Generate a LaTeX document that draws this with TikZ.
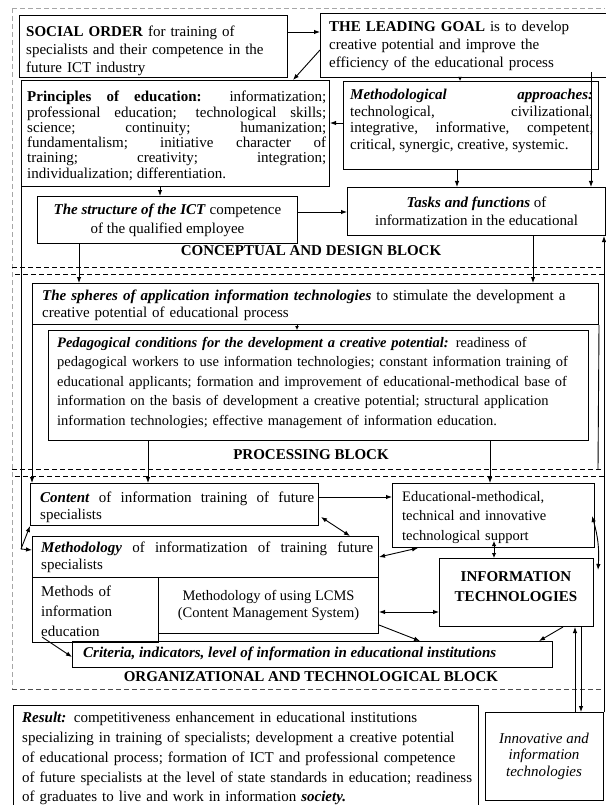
\documentclass[tikz,border=0pt]{standalone}
\usepackage{fontspec}
\setmainfont{Liberation Serif}
\usetikzlibrary{calc,arrows.meta}
\begin{document}
\begin{tikzpicture}[x=1pt,y=-1pt,
 bx/.style={draw,line width=1pt,inner sep=0pt,anchor=north west},
 txt/.style={inner sep=0pt,anchor=north west},
 arr/.style={line width=0.9pt,-{Latex[length=6pt,width=4.5pt]}},
 sarr/.style={line width=0.9pt,-{Latex[length=4pt,width=4pt]}},
 darr/.style={line width=0.9pt,{Latex[length=6pt,width=4.5pt]}-{Latex[length=6pt,width=4.5pt]}},
 sdarr/.style={line width=0.9pt,{Latex[length=5pt,width=4.5pt]}-{Latex[length=5pt,width=4.5pt]}},
 ln/.style={line width=0.9pt},
 sepl/.style={line width=0.8pt,dash pattern=on 5pt off 3pt},
 frm/.style={line width=0.8pt,black!35,dash pattern=on 5pt off 3pt},
 lbl/.style={inner sep=0pt,font=\fontsize{15}{18}\selectfont\bfseries},
 f15/.style={font=\fontsize{15}{#1}\selectfont},
]
\useasboundingbox (0,0) rectangle (605,805);

% outer frame
\draw[frm] (12,8) -- (605,8);
\draw[frm] (12,8) -- (12,689);

% ---------- conceptual block ----------
\node[bx,minimum width=268,minimum height=62] (social) at (19,15) {};
\node[txt,text width=262,align=left,f15=18] (socialt) at (26,26)
 {\textbf{SOCIAL ORDER} for training of\\specialists and their competence in the\\future ICT industry};

\node[bx,minimum width=290,minimum height=64] (goal) at (320,13) {};
\node[txt,text width=275,align=left,f15=18] (goalt) at (329,21)
 {\textbf{THE LEADING GOAL} is to develop\\creative potential and improve the\\efficiency of the educational process};

\node[bx,minimum width=308,minimum height=106] (princ) at (21,80) {};
\node[txt,text width=299,align=justify,f15=15.3] (princt) at (27,91)
 {\noindent\textbf{Principles of education:} informatization;\linebreak professional education; technological skills;\linebreak science; continuity; humanization;\linebreak fundamentalism; initiative character of\linebreak training; creativity; integration;\linebreak individualization; differentiation.};

\node[bx,minimum width=255,minimum height=88] (meth) at (343,81) {};
\node[txt,text width=243,align=justify,f15=16.5] (metht) at (350,89)
 {\noindent\textbf{\textit{Methodological approaches:}}\linebreak technological, civilizational,\linebreak integrative, informative, competent,\linebreak critical, synergic, creative, systemic.};

\node[bx,minimum width=260,minimum height=47,align=center,f15=19] (struct) at (37,196)
 {\textbf{\textit{The structure of the ICT}} competence\\of the qualified employee};

\node[bx,minimum width=258,minimum height=48,align=center,f15=18] (tasks) at (347,187)
 {\textbf{\textit{Tasks and functions}} of\\informatization in the educational};

\node[lbl] (cdb) at (311,251) {CONCEPTUAL AND DESIGN BLOCK};
\draw[sepl] (12,267) -- (605,267);
\draw[sepl] (15,274) -- (605,274);

% ---------- processing block ----------
\node[bx,minimum width=566,minimum height=41] (spheres) at (32,283) {};
\node[txt,text width=550,align=left,f15=17] (spherest) at (42,290)
 {\textbf{\textit{The spheres of application information technologies}} to stimulate the development a\\creative potential of educational process};

\node[bx,minimum width=540,minimum height=110] (ped) at (48,330) {};
\node[txt,text width=528,align=left,font=\fontsize{14.5}{19.5}\selectfont] (pedt) at (57,337)
 {\textbf{\textit{Pedagogical conditions for the development a creative potential:}} readiness of\\pedagogical workers to use information technologies; constant information training of\\educational applicants; formation and improvement of educational-methodical base of\\information on the basis of development a creative potential; structural application\\information technologies; effective management of information education.};

\node[lbl] (pb) at (311,455) {PROCESSING BLOCK};
\draw[sepl] (12,469) -- (605,469);
\draw[sepl] (15,476) -- (605,476);
\coordinate (rf) at (598,469);

% ---------- organizational block ----------
\node[bx,minimum width=288,minimum height=42] (content) at (30,483) {};
\node[txt,text width=274,align=justify,f15=17] (contentt) at (40,492)
 {\noindent\textbf{\textit{Content}} of information training of future\linebreak specialists};

\node[bx,minimum width=202,minimum height=64] (edu) at (392,483) {};
\node[txt,text width=190,align=left,font=\fontsize{14.5}{19.5}\selectfont] (edut) at (402,491)
 {Educational-methodical,\\technical and innovative\\technological support};

\node[bx,minimum width=346,minimum height=41] (mthd) at (32,536) {};
\node[txt,text width=332,align=justify,f15=17] (mthdt) at (41,542)
 {\noindent\textbf{\textit{Methodology}} of informatization of training future\linebreak specialists};

\node[bx,minimum width=154,minimum height=68] (it) at (439,558) {};
\node[inner sep=0pt,align=center,font=\fontsize{15}{20}\selectfont\bfseries] (itt) at (516,587)
 {INFORMATION\\TECHNOLOGIES};

\node[bx,minimum width=126,minimum height=65] (methods) at (32,577) {};
\node[txt,text width=115,align=left,f15=20] (methodst) at (41,586)
 {Methods of\\information\\education};

\node[bx,minimum width=220,minimum height=56,align=center,font=\fontsize{14.5}{17}\selectfont] (lcms) at (158,577)
 {Methodology of using LCMS\\(Content Management System)};

\node[bx,minimum width=480,minimum height=26] (crit) at (72,641) {};
\node[inner sep=0pt,anchor=west,font=\fontsize{15}{18}\selectfont\bfseries\itshape] (critt) at (83,654)
 {Criteria, indicators, level of information in educational institutions};

\node[lbl] (otb) at (311,677) {ORGANIZATIONAL AND TECHNOLOGICAL BLOCK};
\draw[sepl,black!70] (12,689) -- (605,689);

% ---------- result ----------
\node[bx,minimum width=465,minimum height=110] (result) at (13,705) {};
\node[txt,text width=455,align=left,f15=19.8] (resultt) at (22,712)
 {\textbf{\textit{Result:}} competitiveness enhancement in educational institutions\\specializing in training of specialists; development a creative potential\\of educational process; formation of ICT and professional competence\\of future specialists at the level of state standards in education; readiness\\of graduates to live and work in information \textbf{\textit{society.}}};

\node[bx,minimum width=118,minimum height=88] (innov) at (485,712) {};
\node[inner sep=0pt,align=center,font=\fontsize{15}{16.5}\selectfont\itshape] (innovt) at (544,756)
 {Innovative and\\information\\technologies};

\coordinate (lj) at (21,549);

% ---------- connectors ----------
\draw[arr] ($(social.north east)+(0,17)$) -- ($(goal.north west)+(0,19)$);
\draw[arr] ($(goal.north west)+(0,37)$) -- ($(princ.north east)+(-37,0)$);
\draw[sarr] ($(goal.south west)+(140,0)$) -- ($(meth.north west)+(117,0)$);
\draw[arr] ($(meth.north west)+(0,42)$) -- ($(princ.north east)+(0,43)$);
\draw[arr] ($(princ.south west)+(139,0)$) -- ($(struct.north west)+(123,0)$);
\draw[arr] ($(goal.north west)+(271,59)$) -- ($(tasks.north west)+(244,0)$);
\draw[arr] ($(meth.south west)+(114,0)$) -- ($(tasks.north west)+(110,0)$);
\draw[arr] ($(struct.north east)+(0,16)$) -- ($(tasks.north west)+(0,25)$);
\draw[arr] ($(struct.south west)+(42,0)$) -- ($(spheres.north west)+(47,0)$);
\draw[arr] ($(tasks.south west)+(186,0)$) -- ($(spheres.north west)+(501,0)$);
\draw[sarr] ($(spheres.south west)+(265,0)$) -- ($(ped.north west)+(249,0)$);
\draw[arr] (spheres.south west) -- ($(content.north west)+(2,0)$);
\draw[ln] (spheres.south east) -- (rf);
\draw[arr] ($(ped.south west)+(100,0)$) -- ($(content.north west)+(118,0)$);
\draw[arr] ($(ped.south west)+(442,0)$) -- ($(edu.north west)+(98,0)$);
\draw[arr] ($(content.north east)+(0,14)$) -- ($(edu.north west)+(0,14)$);
\draw[darr] ($(content.south east)+(2,-9)$) -- ($(mthd.north west)+(318,0)$);
\draw[darr] ($(mthd.north east)+(0,21)$) -- ($(edu.south west)+(26,0)$);
\draw[sdarr] ($(edu.south west)+(102,-7)$) -- ($(it.north west)+(55,0)$);
\draw[darr] ($(edu.south east)+(-3,-32)$) to[bend left=10] ($(it.north east)+(4,12)$);
\draw[darr] ($(lcms.north east)+(0,35)$) -- ($(it.north west)+(0,54)$);
\draw[arr] ($(lcms.south east)+(0,-9)$) -- ($(crit.north west)+(348,0)$);
\draw[arr] ($(it.south west)+(124,0)$) -- ($(crit.north west)+(467,0)$);
\draw[arr] ($(methods.south west)+(10,-6)$) -- ($(crit.north west)+(0,16)$);
\draw[arr] ($(innov.north west)+(90,0)$) -- ($(it.south west)+(136,0)$);
\draw[arr] ($(it.south west)+(142,0)$) -- ($(innov.north west)+(96,0)$);
\draw[arr] (innov.north east) -- ($(tasks.south east)+(-2,0)$);
\draw[ln] (princ.south west) -- (lj);
\draw[arr] (lj) -- ($(mthd.north west)+(0,14)$);
\draw[arr] (lj) -- (content.south west);
\end{tikzpicture}
\end{document}
